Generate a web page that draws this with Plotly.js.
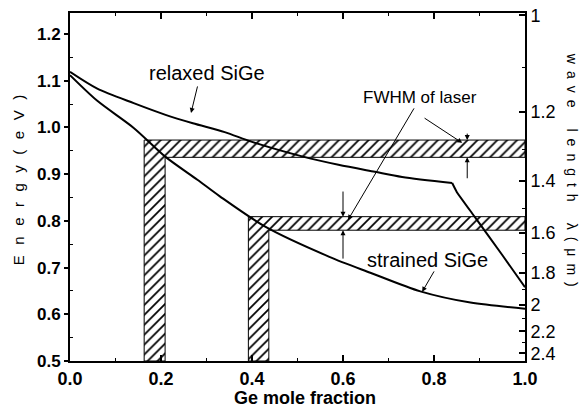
<!DOCTYPE html>
<html>
<head>
<meta charset="utf-8">
<script src="https://cdn.plot.ly/plotly-3.0.1.min.js"></script>
<style>html,body{margin:0;padding:0;background:#fff;}#chart{width:582px;height:408px;}</style>
</head>
<body>
<div id="chart"></div>
<script>
// Data
const relaxedX = [0, 0.06, 0.14, 0.21, 0.27, 0.34, 0.40, 0.51, 0.59, 0.67, 0.73, 0.84];
const relaxedE = [1.119, 1.083, 1.052, 1.027, 1.009, 0.990, 0.969, 0.938, 0.920, 0.905, 0.894, 0.881];
const relaxedTailX = [0.84, 0.85, 0.89, 0.95, 1.0];
const relaxedTailE = [0.881, 0.862, 0.808, 0.727, 0.658];
const strainedX = [0, 0.06, 0.14, 0.21, 0.28, 0.33, 0.43, 0.57, 0.66, 0.77, 0.88, 1.0];
const strainedE = [1.112, 1.057, 0.999, 0.937, 0.888, 0.852, 0.787, 0.723, 0.689, 0.649, 0.625, 0.612];
// FWHM bands of laser: [E low, E high] and matching Ge fraction strips [x low, x high]
const band1E = [0.936, 0.973];
const band1X = [0.163, 0.209];
const band2E = [0.780, 0.809];
const band2X = [0.392, 0.437];
const xTicks = [0, 0.2, 0.4, 0.6, 0.8, 1.0];
const yTicks = [0.5, 0.6, 0.7, 0.8, 0.9, 1.0, 1.1, 1.2];
const lambdaTicks = [1, 1.2, 1.4, 1.6, 1.8, 2, 2.2, 2.4];
const lambdaMinor = [1.1, 1.3, 1.5, 1.7, 1.9, 2.1, 2.3];
const hc = 1.24; // eV·µm
const yMin = 0.5, yMax = 1.245;

function lShape(xs, es) {
  return {
    x: [xs[0], xs[0], 1, 1, xs[1], xs[1], xs[0]],
    y: [yMin, es[1], es[1], es[0], es[0], yMin, yMin]
  };
}
const font = '"Liberation Sans", Arial, sans-serif';
const pat = {shape: '/', size: 7, solidity: 0.25, fgcolor: '#000', bgcolor: '#fff', fillmode: 'replace'};
const s1 = lShape(band1X, band1E), s2 = lShape(band2X, band2E);

const traces = [
  {x: s1.x, y: s1.y, mode: 'lines', fill: 'toself', fillcolor: '#fff', fillpattern: pat,
   line: {color: '#000', width: 1}, showlegend: false, hoverinfo: 'skip'},
  {x: s2.x, y: s2.y, mode: 'lines', fill: 'toself', fillcolor: '#fff', fillpattern: pat,
   line: {color: '#000', width: 1}, showlegend: false, hoverinfo: 'skip'},
  {x: relaxedX, y: relaxedE, mode: 'lines', line: {color: '#000', width: 2, shape: 'spline', smoothing: 0.8}, showlegend: false},
  {x: relaxedTailX, y: relaxedTailE, mode: 'lines', line: {color: '#000', width: 2, shape: 'spline', smoothing: 0.4}, showlegend: false},
  {x: strainedX, y: strainedE, mode: 'lines', line: {color: '#000', width: 2, shape: 'spline', smoothing: 0.8}, showlegend: false},
  {x: [0.5], y: [0.9], yaxis: 'y2', mode: 'markers', marker: {opacity: 0}, showlegend: false, hoverinfo: 'skip'}
];

function arrow(hx, hy, tx, ty) {
  return {x: hx, y: hy, ax: tx, ay: ty, xref: 'x', yref: 'y', axref: 'x', ayref: 'y',
    text: '', showarrow: true, arrowhead: 2, arrowsize: 1, arrowwidth: 1, arrowcolor: '#000', standoff: 0};
}
const annotations = [
  {x: 0.301, y: 1.117, xref: 'x', yref: 'y', text: 'relaxed SiGe', showarrow: false, font: {family: font, size: 20, color: '#000'}},
  arrow(0.266, 1.031, 0.281, 1.091),
  {x: 0.785, y: 0.716, xref: 'x', yref: 'y', text: 'strained SiGe', showarrow: false, font: {family: font, size: 20, color: '#000'}},
  arrow(0.774, 0.648, 0.802, 0.695),
  {x: 0.769, y: 1.065, xref: 'x', yref: 'y', text: 'FWHM of laser', showarrow: false, font: {family: font, size: 17, color: '#000'}},
  arrow(0.611, 0.802, 0.758, 1.044),
  arrow(0.862, 0.967, 0.776, 1.022),
  arrow(0.873, band1E[1], 0.873, 0.990),
  arrow(0.873, band1E[0], 0.873, 0.888),
  arrow(0.6, band2E[1], 0.6, 0.866),
  arrow(0.6, band2E[0], 0.6, 0.716),
  {x: 0.516, y: -0.105, xref: 'paper', yref: 'paper', xanchor: 'center', yanchor: 'middle',
   text: '<b>Ge mole fraction</b>', showarrow: false, font: {family: font, size: 18, color: '#000'}},
  {x: -0.114, y: 0.52, xref: 'paper', yref: 'paper', xanchor: 'center', yanchor: 'middle', textangle: -90, showarrow: false,
   text: 'E\u2002\u2009n\u2002\u2009e\u2002\u2009r\u2002\u2009g\u2002\u2009y\u2002\u2009(\u2002\u2009e\u2002\u2009V\u2002\u2009)', font: {family: font, size: 15, color: '#000'}},
  {x: 1.105, y: 0.55, xref: 'paper', yref: 'paper', xanchor: 'center', yanchor: 'middle', textangle: 90, showarrow: false,
   text: 'w\u2002a\u2002v\u2002e\u2003\u2002l\u2002e\u2002n\u2002g\u2002t\u2002h\u2003\u2002λ\u2002(\u2002μ\u2002m\u2002)', font: {family: font, size: 14, color: '#000'}}
];

const layout = {
  width: 582, height: 408,
  margin: {l: 70, r: 57, t: 13, b: 47},
  paper_bgcolor: '#fff', plot_bgcolor: '#fff',
  showlegend: false,
  xaxis: {range: [0, 1], tickvals: xTicks, ticktext: xTicks.map(v => v.toFixed(1)),
    ticks: 'inside', ticklen: 6, tickwidth: 2, tickcolor: '#000',
    minor: {tickvals: [0.1, 0.3, 0.5, 0.7, 0.9], ticks: 'inside', ticklen: 3, tickwidth: 1, tickcolor: '#000'},
    showline: true, linewidth: 2, linecolor: '#000', mirror: 'ticks', showgrid: false, zeroline: false,
    tickfont: {family: font, size: 18, color: '#000', weight: 'bold'}},
  yaxis: {range: [yMin, yMax], tickvals: yTicks, ticktext: yTicks.map(v => v.toFixed(1)),
    ticks: 'outside', ticklen: 4, tickwidth: 2, tickcolor: '#000',
    minor: {tickvals: [0.55, 0.65, 0.75, 0.85, 0.95, 1.05, 1.15], ticks: 'inside', ticklen: 3, tickwidth: 1, tickcolor: '#000'},
    showline: true, linewidth: 2, linecolor: '#000', showgrid: false, zeroline: false,
    tickfont: {family: font, size: 17, color: '#000', weight: 'bold'}},
  yaxis2: {overlaying: 'y', side: 'right', range: [yMin, yMax],
    tickvals: lambdaTicks.map(l => hc / l), ticktext: lambdaTicks.map(String),
    ticks: 'inside', ticklen: 6, tickwidth: 2, tickcolor: '#000',
    minor: {tickvals: lambdaMinor.map(l => hc / l), ticks: 'inside', ticklen: 3, tickwidth: 1, tickcolor: '#000'},
    showline: true, linewidth: 2, linecolor: '#000', showgrid: false, zeroline: false,
    tickfont: {family: font, size: 18, color: '#000'}},
  annotations: annotations
};
Plotly.newPlot('chart', traces, layout, {staticPlot: true, displayModeBar: false});
</script>
</body>
</html>
